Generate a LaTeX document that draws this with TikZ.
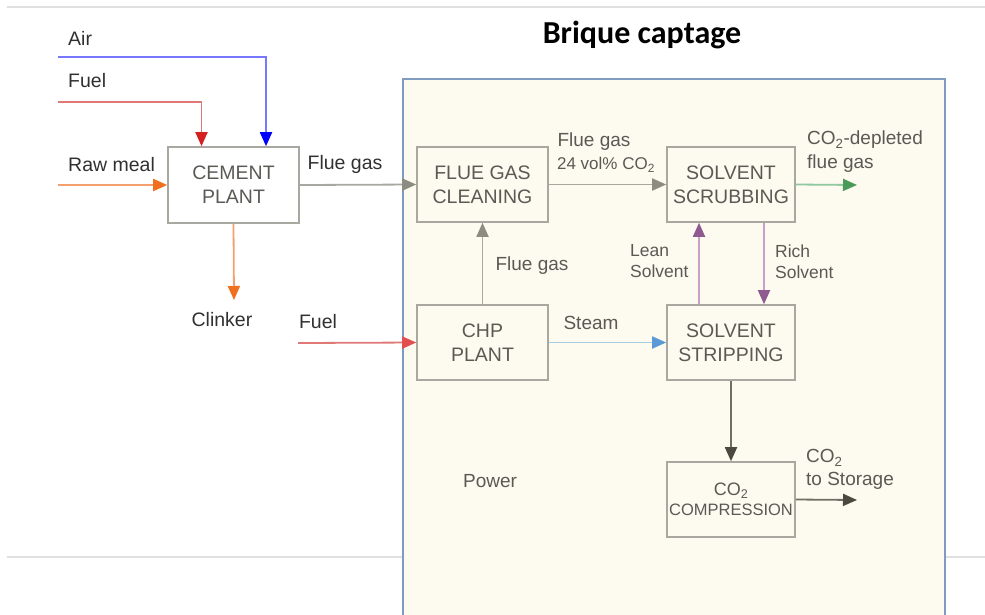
\documentclass[tikz,border=0pt]{standalone}
\usepackage{fontspec}
\setmainfont{Liberation Sans}
\newfontfamily\titlefont{Carlito}
\usetikzlibrary{arrows.meta}
\definecolor{cream}{HTML}{FDFAEF}
\definecolor{frameblue}{HTML}{7F9CC0}
\definecolor{boxline}{HTML}{A8A8A0}
\definecolor{intxt}{HTML}{5A5A55}
\definecolor{outtxt}{HTML}{303030}
\definecolor{rule}{HTML}{E0E0E0}
\definecolor{airl}{HTML}{7878FF}\definecolor{airt}{HTML}{0000FF}
\definecolor{fuell}{HTML}{E07878}\definecolor{fuelt}{HTML}{D42020}
\definecolor{rawl}{HTML}{F5A070}\definecolor{rawt}{HTML}{F07020}
\definecolor{gasl}{HTML}{A8A8A0}\definecolor{gast}{HTML}{8C8C80}
\definecolor{grnl}{HTML}{90C8A0}\definecolor{grnt}{HTML}{4A9A5A}
\definecolor{purl}{HTML}{C8A0C8}\definecolor{purt}{HTML}{8E5A90}
\definecolor{stml}{HTML}{A8CCE0}\definecolor{stmt}{HTML}{5B9BD5}
\definecolor{fuel2t}{HTML}{E05050}
\definecolor{darkl}{HTML}{706E66}\definecolor{darkt}{HTML}{4A4A40}
\tikzset{
  procbox/.style={draw=boxline, line width=1.6pt, text=intxt, align=center,
    minimum width=131pt, minimum height=75pt, inner sep=0pt,
    font=\fontsize{19.5}{24}\selectfont},
  outlabel/.style={text=outtxt, inner sep=0pt, font=\fontsize{19.5}{22}\selectfont},
  inlabel/.style={text=intxt, inner sep=0pt, font=\fontsize{19}{22}\selectfont},
  smalllabel/.style={text=intxt, inner sep=0pt, align=left, font=\fontsize{17.5}{21}\selectfont},
  flow/.style 2 args={draw=#1, line width=1.8pt,
    -{Triangle[length=14pt,width=12pt,color=#2]}},
}
\begin{document}
\begin{tikzpicture}[x=1pt,y=-1pt]
\useasboundingbox (0,0) rectangle (985,614);
\clip (0,0) rectangle (985,614);
% rules
\draw[rule, line width=1.5pt] (7,7) -- (985,7);
\draw[rule, line width=1.5pt] (7,557) -- (403,557);
\draw[rule, line width=1.5pt] (945,557) -- (985,557);
% capture frame
\draw[frameblue, fill=cream, line width=2pt] (403,79) rectangle (945,640);
\node[font=\titlefont\bfseries\fontsize{32}{36}\selectfont, inner sep=0pt, anchor=base] (title) at (642,43) {Brique captage};
% boxes
\node[procbox, fill=white, minimum height=76pt] (cement) at (233.5,185) {CEMENT\\PLANT};
\node[procbox, fill=cream] (fgc) at (482.5,184.5) {FLUE GAS\\CLEANING};
\node[procbox, fill=cream, minimum width=128pt] (scrub) at (731,184.5) {SOLVENT\\SCRUBBING};
\node[procbox, fill=cream] (chp) at (482.5,342.5) {CHP\\PLANT};
\node[procbox, fill=cream, minimum width=128pt] (strip) at (731,342.5) {SOLVENT\\STRIPPING};
\node[procbox, fill=cream, minimum width=128pt, font=\fontsize{16.5}{20}\selectfont] (comp) at (731,499.5) {{\fontsize{18}{20}\selectfont CO\textsubscript{2}}\\COMPRESSION};
% outside labels
\node[outlabel, anchor=west] (air) at (68,38) {Air};
\node[outlabel, anchor=west] (fuel) at (68,81) {Fuel};
\node[outlabel, anchor=west] (raw) at (68,165) {Raw meal};
\node[outlabel] (fluegas1) at (345,164) {Flue gas};
\node[outlabel] (clinker) at (222,320) {Clinker};
\node[outlabel] (fuel2) at (318,322) {Fuel};
% inside labels
\node[inlabel] (fluegas2) at (594,142) {Flue gas};
\node[inlabel, font=\fontsize{17}{20}\selectfont] (vol) at (606,165) {24 vol\% CO\textsubscript{2}};
\node[inlabel, anchor=west, align=left, font=\fontsize{19}{24}\selectfont] (depl) at (807,152) {CO\textsubscript{2}-depleted\\flue gas};
\node[inlabel] (fluegas3) at (532,266) {Flue gas};
\node[smalllabel, anchor=west] (lean) at (630,261.5) {Lean\\Solvent};
\node[smalllabel, anchor=west] (rich) at (775,261.5) {Rich\\Solvent};
\node[inlabel] (steam) at (591,323) {Steam};
\node[inlabel] (power) at (490,481) {Power};
\node[inlabel, anchor=west, align=left, font=\fontsize{19}{23}\selectfont] (storage) at (806,469.5) {CO\textsubscript{2}\\to Storage};
% free ends
\coordinate (airS) at (58,57);
\coordinate (fuelS) at (58,102);
\coordinate (rawS) at (58,185);
\coordinate (clinkE) at (234,300);
\coordinate (fuel2S) at (298,343);
\coordinate (deplE) at (857,185);
\coordinate (storE) at (857,500);
% connectors
\draw[flow={airl}{airt}] (airS) -| ([xshift=32.5pt]cement.north);
\draw[flow={fuell}{fuelt}] (fuelS) -| ([xshift=-32pt]cement.north);
\draw[flow={rawl}{rawt}] (rawS) -- (cement.west);
\draw[flow={rawl}{rawt}] (cement.south) -- (clinkE);
\draw[flow={gasl}{gast}] (cement.east) -- (fgc.west);
\draw[flow={fuell}{fuel2t}] (fuel2S) -- (chp.west);
\draw[flow={gasl}{gast}] (fgc.east) -- (scrub.west);
\draw[flow={grnl}{grnt}] (scrub.east) -- (deplE);
\draw[flow={gasl}{gast}] (chp.north) -- (fgc.south);
\draw[flow={purl}{purt}] ([xshift=-32pt]strip.north) -- ([xshift=-32pt]scrub.south);
\draw[flow={purl}{purt}] ([xshift=33pt]scrub.south) -- ([xshift=33pt]strip.north);
\draw[flow={stml}{stmt}] (chp.east) -- (strip.west);
\draw[flow={darkl}{darkt}] (strip.south) -- (comp.north);
\draw[flow={darkl}{darkt}] (comp.east) -- (storE);
\end{tikzpicture}
\end{document}
